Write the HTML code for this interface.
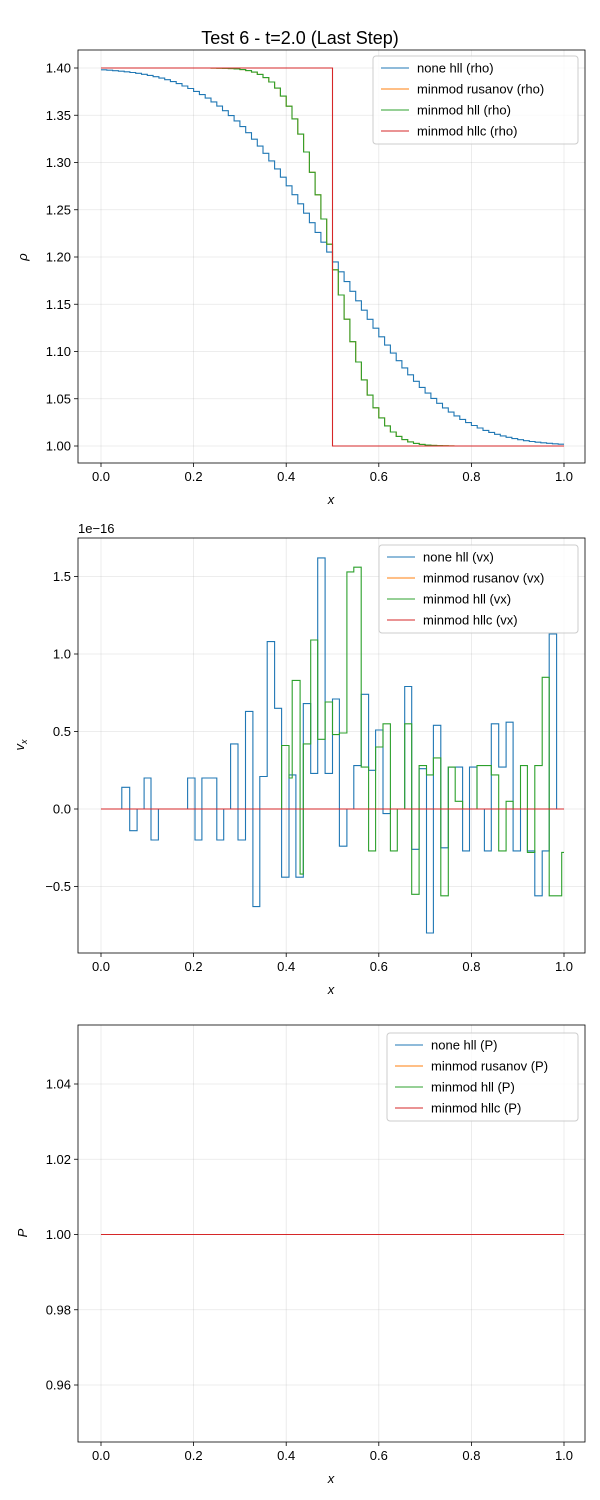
<!DOCTYPE html>
<html><head><meta charset="utf-8"><style>
body{margin:0;background:#fff;}
svg{display:block;font-family:"Liberation Sans","DejaVu Sans",sans-serif;}
</style></head><body>
<svg id="s" width="600" height="1500" viewBox="0 0 600 1500" xmlns="http://www.w3.org/2000/svg">
<rect width="600" height="1500" fill="#fff"/>
<text x="300" y="44" font-size="18" text-anchor="middle">Test 6 - t=2.0 (Last Step)</text>
</svg>
<script>
const S=document.getElementById('s');const NS='http://www.w3.org/2000/svg';
function el(t,a,txt){const e=document.createElementNS(NS,t);for(const k in a)e.setAttribute(k,a[k]);if(txt!==undefined)e.textContent=txt;S.appendChild(e);return e;}
const X0=101,XS=463;const xp=x=>X0+x*XS;
const C={b:'#1f77b4',o:'#ff7f0e',g:'#2ca02c',r:'#d62728'};
function axes(top,bot,yt,ypx,yfmt,xl,yl){
 for(let i=0;i<=5;i++){const x=xp(i*0.2);el('line',{x1:x,x2:x,y1:top,y2:bot,stroke:'#b0b0b0','stroke-opacity':0.3,'stroke-width':0.8});}
 yt.forEach(v=>{const y=ypx(v);el('line',{x1:78,x2:585,y1:y,y2:y,stroke:'#b0b0b0','stroke-opacity':0.3,'stroke-width':0.8});});
 for(let i=0;i<=5;i++){const x=xp(i*0.2);el('line',{x1:x,x2:x,y1:bot,y2:bot+4,stroke:'#000','stroke-width':0.8});el('text',{x:x,y:bot+18,'font-size':13,'text-anchor':'middle'},(i*0.2).toFixed(1));}
 yt.forEach(v=>{const y=ypx(v);el('line',{x1:74,x2:78,y1:y,y2:y,stroke:'#000','stroke-width':0.8});el('text',{x:71,y:y+4.5,'font-size':13,'text-anchor':'end'},yfmt(v));});
 el('text',{x:331,y:bot+41,'font-size':13,'text-anchor':'middle','font-style':'italic'},'x');
}
function frame(top,bot){el('rect',{x:78,y:top,width:507,height:bot-top,fill:'none',stroke:'#000','stroke-width':0.8});}
function path(pts,c){el('path',{d:'M'+pts.map(p=>p[0].toFixed(1)+','+p[1].toFixed(1)).join('L'),fill:'none',stroke:c,'stroke-width':1.1});}
function erf(x){const s=Math.sign(x);x=Math.abs(x);const t=1/(1+0.3275911*x);const y=1-(((((1.061405429*t-1.453152027)*t)+1.421413741)*t-0.284496736)*t+0.254829592)*t*Math.exp(-x*x);return s*y;}
function stairs(f,n,ypx){const pts=[];for(let i=0;i<n;i++){const x0=i/n,x1=(i+1)/n,v=f((x0+x1)/2);pts.push([xp(x0),ypx(v)]);pts.push([xp(x1),ypx(v)]);}return pts;}
function legend(x,y,w,labels){el('rect',{x:x,y:y,width:w,height:88,rx:3,fill:'#fff','fill-opacity':0.8,stroke:'#ccc','stroke-width':1});
 const cs=[C.b,C.o,C.g,C.r];labels.forEach((l,i)=>{const yy=y+12+i*21;el('line',{x1:x+8,x2:x+36,y1:yy,y2:yy,stroke:cs[i],'stroke-width':1.1});el('text',{x:x+44,y:yy+4.5,'font-size':13},l);});}
const y1=v=>446-(v-1.0)*945;
axes(50,463,[1.0,1.05,1.1,1.15,1.2,1.25,1.3,1.35,1.4],y1,v=>v.toFixed(2));
el('text',{x:0,y:0,'font-size':13,'font-style':'italic','text-anchor':'middle',transform:'translate(27,257) rotate(-90)'},'ρ');
path(stairs(x=>1.2-0.2*erf((x-0.5)/0.27),80,y1),C.b);
const mm=x=>1.2-0.2*erf((x-0.5)/0.104);
path(stairs(mm,80,y1),C.o);path(stairs(mm,80,y1),C.g);
path([[xp(0),y1(1.4)],[xp(0.5),y1(1.4)],[xp(0.5),y1(1.0)],[xp(1),y1(1.0)]],C.r);
frame(50,463);legend(373,56,205,['none hll (rho)','minmod rusanov (rho)','minmod hll (rho)','minmod hllc (rho)']);
const y2=v=>809-v*155;
axes(538,953,[-0.5,0,0.5,1.0,1.5],y2,v=>(v<0?'−':'')+Math.abs(v).toFixed(1));
el('text',{x:78,y:533,'font-size':13},'1e−16');
el('text',{x:0,y:0,'font-size':13,'font-style':'italic','text-anchor':'middle',transform:'translate(24,745) rotate(-90)'}).innerHTML='v<tspan font-size="9" dy="3">x</tspan>';
function steps(arr,ypx){const pts=[];for(let i=0;i<arr.length-1;i+=2){const x0=arr[i],v=arr[i+1],x1=(i+2<arr.length)?arr[i+2]:1.0;pts.push([xp(x0),ypx(v)]);pts.push([xp(x1),ypx(v)]);}return pts;}
const B=[0,0,0.045,0.14,0.062,-0.14,0.078,0,0.093,0.2,0.108,-0.2,0.124,0,0.187,0.2,0.203,-0.2,0.218,0.2,0.25,-0.2,0.265,0,0.28,0.42,0.296,-0.2,0.312,0.63,0.328,-0.63,0.343,0.21,0.359,1.08,0.375,0.65,0.39,-0.44,0.406,0.22,0.421,-0.44,0.437,0.68,0.453,0.23,0.468,1.62,0.484,0.23,0.5,0.71,0.515,-0.24,0.531,0,0.546,0.28,0.562,0.74,0.578,0.25,0.593,0.51,0.609,-0.03,0.625,0,0.656,0.79,0.671,-0.26,0.687,0.26,0.703,-0.8,0.718,0.54,0.734,-0.25,0.75,0.27,0.781,-0.27,0.796,0.27,0.812,0,0.828,-0.27,0.843,0.55,0.859,0.27,0.875,0.56,0.89,-0.27,0.906,0,0.921,-0.27,0.937,-0.56,0.953,-0.27,0.968,1.13,0.984,0];
const G=[0,0,0.39,0.41,0.406,0.2,0.413,0.83,0.43,-0.42,0.437,0.42,0.453,1.09,0.468,0.45,0.484,0.69,0.5,0.48,0.515,0.49,0.531,1.53,0.546,1.56,0.562,0.27,0.578,-0.27,0.593,0.4,0.609,0.55,0.625,-0.27,0.64,0,0.656,0.55,0.671,-0.55,0.687,0.28,0.703,0.22,0.718,0.33,0.734,-0.56,0.75,0.27,0.765,0.05,0.781,0,0.812,0.28,0.843,0.22,0.859,-0.27,0.875,0.05,0.89,0,0.906,0.28,0.921,-0.28,0.937,0.28,0.953,0.85,0.968,-0.56,0.995,-0.28];
path(steps(B,y2),C.b);
path([[xp(0),y2(0)],[xp(1),y2(0)]],C.o);
path(steps(G,y2),C.g);
path([[xp(0),y2(0)],[xp(1),y2(0)]],C.r);
frame(538,953);legend(379,545,199,['none hll (vx)','minmod rusanov (vx)','minmod hll (vx)','minmod hllc (vx)']);
const y3=v=>1234.5-(v-1.0)*3762.5;
axes(1025,1442,[0.96,0.98,1.0,1.02,1.04],y3,v=>v.toFixed(2));
el('text',{x:0,y:0,'font-size':13,'font-style':'italic','text-anchor':'middle',transform:'translate(27,1233) rotate(-90)'},'P');
[C.b,C.o,C.g,C.r].forEach(c=>path([[xp(0),y3(1)],[xp(1),y3(1)]],c));
frame(1025,1442);legend(387,1033,191,['none hll (P)','minmod rusanov (P)','minmod hll (P)','minmod hllc (P)']);
</script>
</body></html>
